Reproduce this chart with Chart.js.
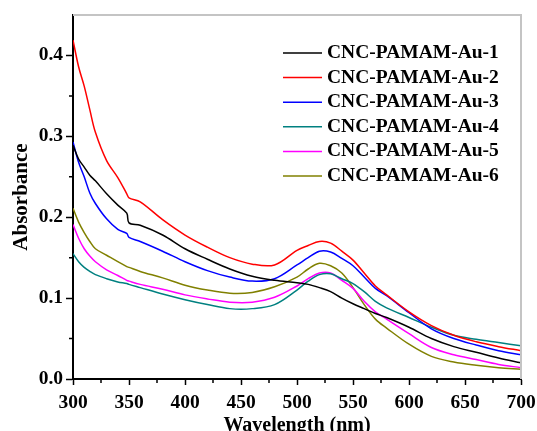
<!DOCTYPE html>
<html>
<head>
<meta charset="utf-8">
<script src="https://cdn.jsdelivr.net/npm/chart.js@4"></script>
<style>
  body { margin: 0; background: #fff; }
  #wrap { width: 537px; height: 431px; }
</style>
</head>
<body>
<div id="wrap"><canvas id="uvChart" width="537" height="431"></canvas></div>
<script>
// wavelength grid (nm) and absorbance
const wavelengths = [300, 305, 310, 315, 320, 330, 340, 348, 350, 360, 380, 400, 420, 440, 460, 480, 500, 510, 520, 530, 540, 550, 560, 570, 580, 600, 620, 640, 660, 680, 700];

const au1 = [0.289, 0.272, 0.262, 0.252, 0.245, 0.229, 0.215, 0.205, 0.193, 0.190, 0.178, 0.161, 0.148, 0.136, 0.127, 0.122, 0.119, 0.117, 0.113, 0.108, 0.100, 0.093, 0.087, 0.081, 0.076, 0.064, 0.050, 0.040, 0.033, 0.026, 0.020];
const au2 = [0.419, 0.386, 0.362, 0.333, 0.305, 0.270, 0.249, 0.229, 0.224, 0.219, 0.197, 0.178, 0.163, 0.150, 0.142, 0.141, 0.159, 0.165, 0.170, 0.168, 0.158, 0.147, 0.131, 0.115, 0.104, 0.083, 0.066, 0.054, 0.046, 0.040, 0.035];
const au3 = [0.293, 0.268, 0.250, 0.230, 0.217, 0.198, 0.185, 0.180, 0.175, 0.170, 0.158, 0.145, 0.134, 0.126, 0.121, 0.124, 0.141, 0.150, 0.158, 0.157, 0.149, 0.140, 0.126, 0.112, 0.103, 0.082, 0.062, 0.050, 0.042, 0.035, 0.030];
const au4 = [0.155, 0.145, 0.138, 0.133, 0.129, 0.124, 0.120, 0.118, 0.117, 0.113, 0.105, 0.098, 0.092, 0.087, 0.087, 0.092, 0.110, 0.121, 0.129, 0.130, 0.124, 0.118, 0.108, 0.096, 0.088, 0.076, 0.064, 0.054, 0.049, 0.045, 0.041];
const au5 = [0.191, 0.174, 0.161, 0.152, 0.145, 0.135, 0.128, 0.122, 0.121, 0.117, 0.111, 0.104, 0.099, 0.095, 0.095, 0.101, 0.115, 0.124, 0.131, 0.131, 0.122, 0.112, 0.096, 0.083, 0.074, 0.056, 0.039, 0.030, 0.024, 0.018, 0.014];
const au6 = [0.211, 0.194, 0.181, 0.170, 0.161, 0.153, 0.145, 0.139, 0.138, 0.133, 0.125, 0.116, 0.110, 0.106, 0.107, 0.114, 0.126, 0.136, 0.143, 0.140, 0.131, 0.113, 0.092, 0.074, 0.063, 0.043, 0.028, 0.021, 0.017, 0.014, 0.012];

const seriesNames = ['CNC-PAMAM-Au-1', 'CNC-PAMAM-Au-2', 'CNC-PAMAM-Au-3', 'CNC-PAMAM-Au-4', 'CNC-PAMAM-Au-5', 'CNC-PAMAM-Au-6'];
const seriesColors = ['#000000', '#ff0000', '#0000ff', '#008080', '#ff00ff', '#808000'];
const seriesValues = [au1, au2, au3, au4, au5, au6];

const xMinor = [325, 375, 425, 475, 525, 575, 625, 675];
const yMinor = [0.05, 0.15, 0.25, 0.35];

const serif = '"Liberation Serif", "Times New Roman", serif';

const datasets = seriesValues.map((vals, i) => ({
    label: seriesNames[i],
    data: wavelengths.map((w, j) => ({ x: w, y: vals[j] })),
    borderColor: seriesColors[i],
    backgroundColor: seriesColors[i],
    borderWidth: 1.5,
    pointRadius: 0,
    tension: 0.35,
    fill: false
}));

// frame, minor ticks and the in-plot legend
const extras = {
    id: 'extras',
    afterDraw(chart) {
        const ctx = chart.ctx;
        const a = chart.chartArea;
        const xs = chart.scales.x;
        const ys = chart.scales.y;
        ctx.save();

        // top and right frame in grey
        ctx.strokeStyle = '#c4c4c4';
        ctx.lineWidth = 2;
        ctx.beginPath();
        ctx.moveTo(a.left, a.top);
        ctx.lineTo(a.right, a.top);
        ctx.lineTo(a.right, a.bottom);
        ctx.stroke();

        // minor ticks
        ctx.strokeStyle = '#000';
        ctx.lineWidth = 1.5;
        ctx.beginPath();
        xMinor.forEach(v => {
            const px = xs.getPixelForValue(v);
            ctx.moveTo(px, a.bottom);
            ctx.lineTo(px, a.bottom + 4);
        });
        yMinor.forEach(v => {
            const py = ys.getPixelForValue(v);
            ctx.moveTo(a.left, py);
            ctx.lineTo(a.left - 4, py);
        });
        ctx.stroke();

        // legend
        ctx.font = 'bold 19.5px ' + serif;
        ctx.textBaseline = 'middle';
        ctx.textAlign = 'left';
        chart.data.datasets.forEach((ds, i) => {
            const y = 53 + i * 24.6;
            ctx.strokeStyle = ds.borderColor;
            ctx.lineWidth = 1.5;
            ctx.beginPath();
            ctx.moveTo(283, y);
            ctx.lineTo(322, y);
            ctx.stroke();
            ctx.fillStyle = '#000';
            ctx.fillText(ds.label, 327, y);
        });
        ctx.restore();
    }
};

new Chart(document.getElementById('uvChart'), {
    type: 'line',
    data: { datasets: datasets },
    options: {
        responsive: false,
        animation: false,
        layout: { padding: { top: 15, right: 16, left: 0, bottom: 0 } },
        plugins: {
            legend: { display: false },
            tooltip: { enabled: false }
        },
        scales: {
            x: {
                type: 'linear',
                min: 300,
                max: 700,
                border: { color: '#000', width: 2 },
                grid: { drawOnChartArea: false, drawTicks: true, tickLength: 6, tickColor: '#000', tickWidth: 1.5 },
                ticks: {
                    stepSize: 50,
                    color: '#000',
                    padding: 6,
                    maxRotation: 0,
                    font: { family: serif, size: 19.5, weight: 'bold' }
                },
                title: {
                    display: true,
                    text: 'Wavelength (nm)',
                    color: '#000',
                    padding: 0,
                    font: { family: serif, size: 20, weight: 'bold', lineHeight: 0.5 }
                },
                afterFit(scale) {
                    scale.height = 52;
                    scale.paddingLeft = 0;
                    scale.paddingRight = 0;
                }
            },
            y: {
                min: 0,
                max: 0.45,
                border: { color: '#000', width: 2 },
                grid: {
                    drawOnChartArea: false,
                    drawTicks: true,
                    tickLength: 7,
                    tickWidth: 1.5,
                    tickColor: c => (Math.abs(c.tick.value * 10 - Math.round(c.tick.value * 10)) < 1e-6 ? '#000' : 'rgba(0,0,0,0)')
                },
                ticks: {
                    stepSize: 0.1,
                    color: '#000',
                    padding: 3,
                    font: { family: serif, size: 19.5, weight: 'bold' },
                    callback: v => (Math.abs(v * 10 - Math.round(v * 10)) < 1e-6 ? v.toFixed(1) : '')
                },
                title: {
                    display: true,
                    text: 'Absorbance',
                    color: '#000',
                    padding: { top: 11, bottom: 0 },
                    font: { family: serif, size: 21, weight: 'bold', lineHeight: 1 }
                },
                afterFit(scale) {
                    scale.width = 73;
                    scale.paddingTop = 0;
                    scale.paddingBottom = 0;
                }
            }
        }
    },
    plugins: [extras]
});
</script>
</body>
</html>
